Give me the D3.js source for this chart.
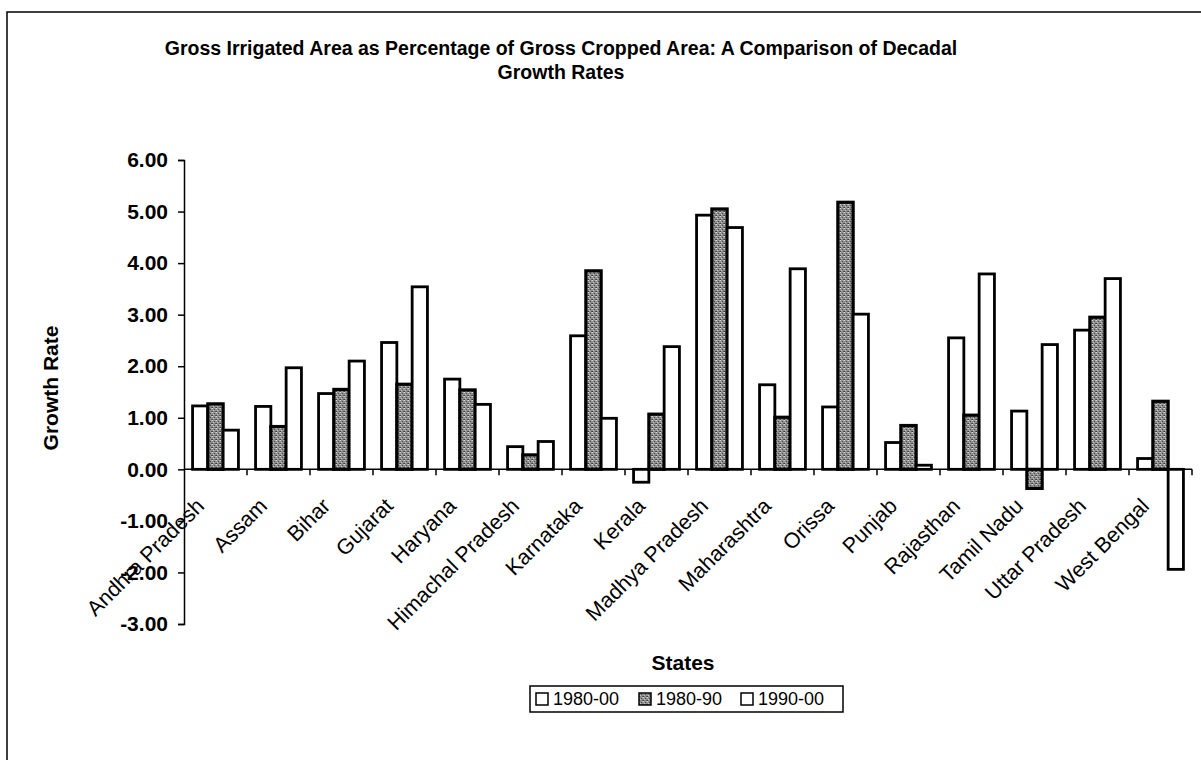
<!DOCTYPE html>
<html>
<head>
<meta charset="utf-8">
<script src="https://cdn.jsdelivr.net/npm/d3@7"></script>
<style>
  html, body { margin: 0; padding: 0; background: #fff; }
  svg { display: block; font-family: "Liberation Sans", Arial, sans-serif; }
</style>
</head>
<body>
<svg id="chart" width="1201" height="760"></svg>
<script>
// States on the category axis
const states = ["Andhra Pradesh", "Assam", "Bihar", "Gujarat", "Haryana", "Himachal Pradesh",
  "Karnataka", "Kerala", "Madhya Pradesh", "Maharashtra", "Orissa", "Punjab",
  "Rajasthan", "Tamil Nadu", "Uttar Pradesh", "West Bengal"];

// Series names (periods)
const seriesNames = ["1980-00", "1980-90", "1990-00"];

// Decadal growth rates per period, in state order
const growth8000 = [1.23, 1.22, 1.47, 2.46, 1.75, 0.44, 2.59, -0.25, 4.93, 1.64, 1.21, 0.52, 2.55, 1.13, 2.70, 0.21];
const growth8090 = [1.27, 0.83, 1.55, 1.65, 1.54, 0.28, 3.85, 1.07, 5.05, 1.01, 5.18, 0.85, 1.05, -0.37, 2.95, 1.32];
const growth9000 = [0.76, 1.97, 2.10, 3.54, 1.26, 0.54, 0.99, 2.38, 4.69, 3.89, 3.01, 0.08, 3.79, 2.42, 3.70, -1.94];

// Value-axis ticks
const yTicks = [-3, -2, -1, 0, 1, 2, 3, 4, 5, 6];

const seriesValues = [growth8000, growth8090, growth9000];

const svg = d3.select("#chart");

// Stippled grey texture for the 1980-90 series
const defs = svg.append("defs");
const pat = defs.append("pattern")
  .attr("id", "stipple").attr("patternUnits", "userSpaceOnUse")
  .attr("width", 4).attr("height", 4);
pat.append("rect").attr("width", 4).attr("height", 4).attr("fill", "#8e8e8e");
[[0, 0, "#d8d8d8"], [2, 1, "#4a4a4a"], [1, 2, "#c4c4c4"], [3, 3, "#5a5a5a"], [3, 0, "#b0b0b0"], [0, 3, "#3c3c3c"]]
  .forEach(([x, y, c]) => pat.append("rect").attr("x", x).attr("y", y).attr("width", 1).attr("height", 1).attr("fill", c));

const fills = ["#ffffff", "url(#stipple)", "#ffffff"];

// Outer chart frame
svg.append("rect").attr("x", 7).attr("y", 12).attr("width", 1210).attr("height", 770)
  .attr("fill", "none").attr("stroke", "#000").attr("stroke-width", 1.5);

// Plot geometry
const plot = { left: 184, right: 1192, top: 160, bottom: 624 };

const x = d3.scaleBand().domain(states).range([plot.left, plot.right]).padding(0);
const xs = d3.scaleBand().domain(seriesNames).range([0, x.bandwidth()]).paddingInner(0).paddingOuter(0.56);
const y = d3.scaleLinear().domain([-3, 6]).range([plot.bottom, plot.top]);

// Title
const title = svg.append("text")
  .attr("text-anchor", "middle")
  .attr("font-weight", "bold").attr("font-size", 19.5);
title.append("tspan").attr("x", 561).attr("y", 55)
  .text("Gross Irrigated Area as Percentage of Gross Cropped Area: A Comparison of Decadal");
title.append("tspan").attr("x", 561).attr("y", 79).text("Growth Rates");

// Bars
const g = svg.append("g");
seriesNames.forEach((name, si) => {
  g.selectAll(null).data(states).join("rect")
    .attr("x", d => x(d) + xs(name))
    .attr("width", xs.bandwidth())
    .attr("y", (d, i) => y(Math.max(0, seriesValues[si][i])))
    .attr("height", (d, i) => Math.abs(y(seriesValues[si][i]) - y(0)))
    .attr("fill", fills[si])
    .attr("stroke", "#000")
    .attr("stroke-width", si === 1 ? 3.2 : 2.8);
});

// Value axis
const yAxis = d3.axisLeft(y).tickValues(yTicks).tickSize(6).tickPadding(10)
  .tickFormat(d => d3.format(".2f")(d).replace("\u2212", "-"));
const yg = svg.append("g").attr("transform", `translate(${plot.left},0)`).call(yAxis);
yg.select(".domain").attr("stroke", "#000").attr("stroke-width", 1.5);
yg.selectAll(".tick line").attr("stroke", "#000").attr("stroke-width", 1.5);
yg.selectAll(".tick text").attr("font-size", 21).attr("font-weight", "bold")
  .attr("font-family", "Liberation Sans, Arial, sans-serif").attr("fill", "#000");

// Category axis along zero, ticks at band boundaries
const y0 = y(0);
svg.append("line").attr("x1", plot.left).attr("x2", plot.right).attr("y1", y0).attr("y2", y0)
  .attr("stroke", "#000").attr("stroke-width", 1.5);
const boundaries = states.map(s => x(s) + x.bandwidth());
svg.selectAll(null).data(boundaries).join("line")
  .attr("x1", d => d).attr("x2", d => d).attr("y1", y0).attr("y2", y0 + 6)
  .attr("stroke", "#000").attr("stroke-width", 1.5);

// Rotated state labels
svg.selectAll(null).data(states).join("text")
  .attr("transform", d => `translate(${x(d) + x.bandwidth() / 2 - 10},${y0 + 38}) rotate(-45)`)
  .attr("text-anchor", "end")
  .attr("font-size", 21.5)
  .text(d => d);

// Axis titles
svg.append("text")
  .attr("transform", "translate(58,388) rotate(-90)")
  .attr("text-anchor", "middle").attr("font-weight", "bold").attr("font-size", 21)
  .text("Growth Rate");
svg.append("text")
  .attr("x", 683).attr("y", 670).attr("text-anchor", "middle")
  .attr("font-weight", "bold").attr("font-size", 21)
  .text("States");

// Legend
const legend = svg.append("g").attr("transform", "translate(530,686)");
legend.append("rect").attr("width", 313).attr("height", 26)
  .attr("fill", "#fff").attr("stroke", "#000").attr("stroke-width", 1.5);
const itemX = [6, 109, 211];
seriesNames.forEach((name, i) => {
  const it = legend.append("g").attr("transform", `translate(${itemX[i]},7)`);
  it.append("rect").attr("width", 12).attr("height", 12)
    .attr("fill", fills[i]).attr("stroke", "#000").attr("stroke-width", 1.5);
  it.append("text").attr("x", 17).attr("y", 12).attr("font-size", 18).text(name);
});
</script>
</body>
</html>
